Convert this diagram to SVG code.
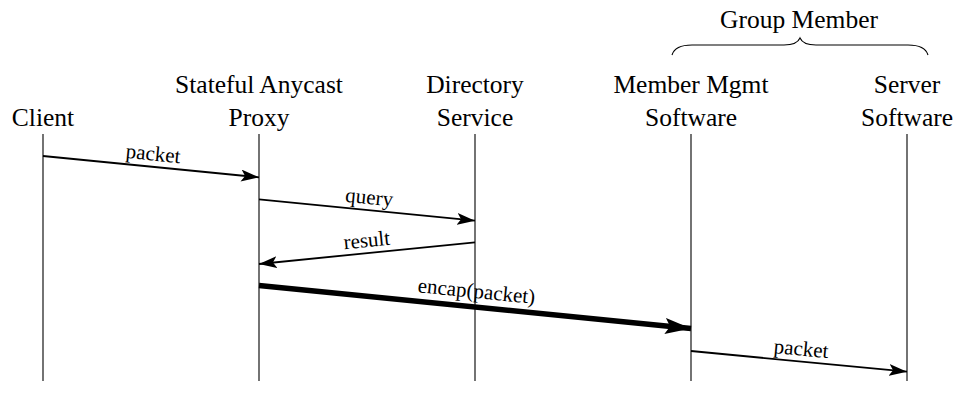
<svg xmlns="http://www.w3.org/2000/svg" width="955" height="394" viewBox="0 0 955 394">
<defs>
<style>
.hdr{font-family:"Liberation Serif","Times New Roman",Tinos,"DejaVu Serif",serif;font-size:25.5px;fill:#000;text-anchor:middle}
.lbl{font-family:"Liberation Serif","Times New Roman",Tinos,"DejaVu Serif",serif;font-size:21px;fill:#000;text-anchor:middle}
.life{stroke:#000;stroke-width:1.1;fill:none}
.msg{stroke:#000;stroke-width:1.8;fill:none;marker-end:url(#ah)}
.thick{stroke:#000;stroke-width:5.5;fill:none;marker-end:url(#ahb)}
</style>
<marker id="ah" markerUnits="userSpaceOnUse" markerWidth="20" markerHeight="12" refX="18" refY="6" orient="auto">
<path d="M0,0 L18,6 L0,12 L4,6 Z" fill="#000"/>
</marker>
<marker id="ahb" markerUnits="userSpaceOnUse" markerWidth="28" markerHeight="16" refX="26" refY="8" orient="auto">
<path d="M0,0 L26,8 L0,16 L5,8 Z" fill="#000"/>
</marker>
</defs>
<rect width="955" height="394" fill="#fff"/>
<g id="client">
<text class="hdr" x="43" y="126">Client</text>
<line class="life" x1="43" y1="134" x2="43" y2="381"/>
</g>
<g id="proxy">
<text class="hdr" x="259" y="93">Stateful Anycast</text>
<text class="hdr" x="259" y="126">Proxy</text>
<line class="life" x1="259" y1="134" x2="259" y2="381"/>
</g>
<g id="directory">
<text class="hdr" x="475" y="93">Directory</text>
<text class="hdr" x="475" y="126">Service</text>
<line class="life" x1="475" y1="134" x2="475" y2="381"/>
</g>
<g id="member">
<text class="hdr" x="691" y="93">Member Mgmt</text>
<text class="hdr" x="691" y="126">Software</text>
<line class="life" x1="691" y1="134" x2="691" y2="381"/>
</g>
<g id="server">
<text class="hdr" x="907" y="93">Server</text>
<text class="hdr" x="907" y="126">Software</text>
<line class="life" x1="907" y1="134" x2="907" y2="381"/>
</g>
<g id="group">
<text class="hdr" x="799" y="28">Group Member</text>
<path d="M672,55 Q675,45 692,45 L784,45 Q797,45 800,38 Q803,45 816,45 L908,45 Q925,45 928,55" fill="none" stroke="#000" stroke-width="1.1"/>
</g>
<g id="connectors">
<line class="msg" x1="43" y1="156" x2="259" y2="177.3"/>
<text class="lbl" transform="translate(152,166.5) rotate(5.63)" y="-6">packet</text>
<line class="msg" x1="259" y1="199.3" x2="475" y2="220.7"/>
<text class="lbl" transform="translate(368,210) rotate(5.66)" y="-6">query</text>
<line class="msg" x1="475" y1="242.3" x2="259" y2="264"/>
<text class="lbl" transform="translate(368,253) rotate(-5.74)" y="-6">result</text>
<line class="thick" x1="259" y1="285.5" x2="691" y2="328.5"/>
<text class="lbl" transform="translate(475,307) rotate(5.7)" y="-9">encap(packet)</text>
<line class="msg" x1="691" y1="351" x2="907" y2="371.7"/>
<text class="lbl" transform="translate(800,361.5) rotate(5.47)" y="-6">packet</text>
</g>
</svg>
